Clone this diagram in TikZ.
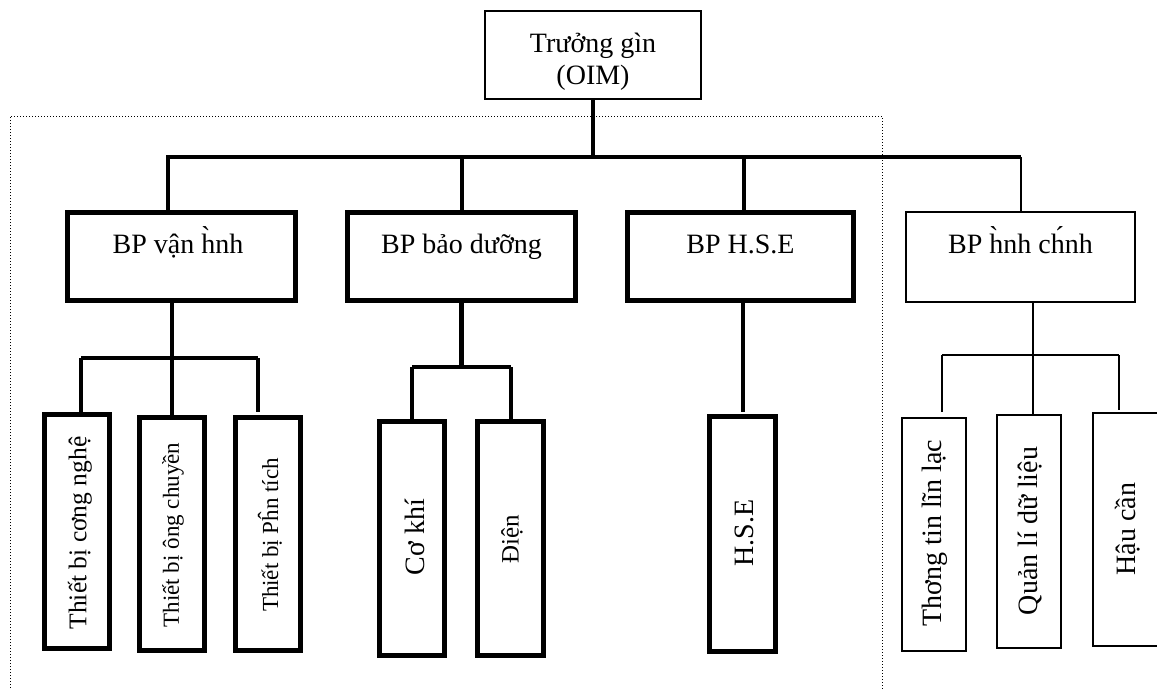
\documentclass[tikz,border=0pt]{standalone}
\usepackage{fontspec}
\setmainfont{Liberation Serif}
\usepackage{graphicx}
\tikzset{
  thickbox/.style={draw, line width=5pt, inner sep=0pt},
  thinbox/.style={draw, line width=2pt, inner sep=0pt},
  thickconn/.style={line width=4.5pt},
  thinconn/.style={line width=2pt},
  lab/.style={font=\fontsize{28}{32}\selectfont, inner sep=0pt},
  blab/.style={lab, anchor=base},
  vlab/.style={lab, rotate=90},
  vlabs/.style={vlab, font=\fontsize{23}{28}\selectfont},
  dotline/.style={dotted, line width=1pt},
}
\begin{document}
\begin{tikzpicture}[x=1pt,y=-1pt]
\useasboundingbox (0,0) rectangle (1157,689);

% dotted frame
\draw[dotline] (10,700) -- (10,116) -- (882,116) -- (882,700);

% top box
\node[thinbox, minimum width=216pt, minimum height=88pt] (top) at (593,55) {};
\node[lab, align=center] (toplab) at (593,62) {Trưởng gìn\\(OIM)};

% level 1 boxes
\node[thickbox, minimum width=228pt, minimum height=88pt] (vh) at (181.5,256.5) {};
\node[blab] (vhlab) at (178,253) {BP vận h̀nh};
\node[thickbox, minimum width=228pt, minimum height=88pt] (bd) at (461.5,256.5) {};
\node[blab] (bdlab) at (461.5,253) {BP bảo dưỡng};
\node[thickbox, minimum width=226pt, minimum height=88pt] (hse) at (740.5,256.5) {};
\node[blab] (hselab) at (740.5,253) {BP H.S.E};
\node[thinbox, minimum width=229pt, minimum height=90pt] (hc) at (1020.5,257) {};
\node[blab] (hclab) at (1020.5,253) {BP h̀nh ch́nh};

% level 2 boxes
\node[thickbox, minimum width=65pt, minimum height=234pt] (t1) at (77,531.5) {};
\node[vlab, font=\fontsize{25.5}{30}\selectfont] (t1lab) at (80,533) {Thiết bị cơng nghệ};
\node[thickbox, minimum width=65pt, minimum height=233pt] (t2) at (172,534) {};
\node[vlabs] (t2lab) at (173,535) {Thiết bị ông chuyền};
\node[thickbox, minimum width=65pt, minimum height=233pt] (t3) at (268,534) {};
\node[vlabs] (t3lab) at (270,535) {Thiết bị Pĥn tích};

\node[thickbox, minimum width=65pt, minimum height=234pt] (ck) at (412,538.5) {};
\node[vlab] (cklab) at (415,537) {Cơ khí};
\node[thickbox, minimum width=66pt, minimum height=234pt] (dien) at (510.5,538.5) {};
\node[vlab, font=\fontsize{25}{30}\selectfont] (dienlab) at (512,539) {Điện};

\node[thickbox, minimum width=66pt, minimum height=235pt] (hse2) at (742.5,534) {};
\node[vlab] (hse2lab) at (744,533) {H.S.E};

\node[thinbox, minimum width=64pt, minimum height=233pt] (r1) at (934,534.5) {};
\node[vlab] (r1lab) at (935,533) {Thơng tin lĩn lạc};
\node[thinbox, minimum width=64pt, minimum height=233pt] (r2) at (1029,531.5) {};
\node[vlab] (r2lab) at (1030,531) {Quản lí dữ liệu};
\node[thinbox, minimum width=66pt, minimum height=233pt] (r3) at (1126,529.5) {};
\node[vlab] (r3lab) at (1128,529) {Hậu cần};

% main bus
\coordinate (jtop) at (593,157);
\coordinate (busL) at (166,157);
\coordinate (busR) at (1021,157);
\coordinate (j1) at (168,157);
\coordinate (j2) at (462,157);
\coordinate (j3) at (744,157);
\coordinate (j4) at (1021,157);
\draw[thickconn] (top.south) -- (jtop);
\draw[thickconn] (busL) -- (busR);
\draw[thickconn] (j1) -- (j1 |- vh.north);
\draw[thickconn] (j2) -- (j2 |- bd.north);
\draw[thickconn] (j3) -- (j3 |- hse.north);
\draw[thinconn] (j4) -- (j4 |- hc.north);

% under BP van hinh
\coordinate (s1L) at (81,358);
\coordinate (s1R) at (258,358);
\coordinate (s1Rend) at (258,412);
\draw[thickconn] (t2.north |- vh.south) -- (t2.north);
\draw[thickconn] (s1L) -- (s1R);
\draw[thickconn] (s1L) -- (s1L |- t1.north);
\draw[thickconn] (s1R) -- (s1Rend);

% under BP bao duong
\coordinate (s2L) at (412,367);
\coordinate (s2R) at (511,367);
\draw[thickconn] (bd.south) -- (bd.south |- s2L);
\draw[thickconn] (s2L) -- (s2R);
\draw[thickconn] (s2L) -- (s2L |- ck.north);
\draw[thickconn] (s2R) -- (s2R |- dien.north);

% under BP HSE
\coordinate (s3) at (743,300.5);
\coordinate (s3end) at (743,412);
\draw[thickconn] (s3) -- (s3end);

% under BP hanh chinh
\coordinate (s4M) at (1033,355);
\coordinate (s4L) at (942,355);
\coordinate (s4R) at (1119,355);
\coordinate (s4Lend) at (942,412);
\coordinate (s4Rend) at (1119,410);
\draw[thinconn] (s4M |- hc.south) -- (s4M |- r2.north);
\draw[thinconn] (s4L) -- (s4R);
\draw[thinconn] (s4L) -- (s4Lend);
\draw[thinconn] (s4R) -- (s4Rend);
\end{tikzpicture}
\end{document}
